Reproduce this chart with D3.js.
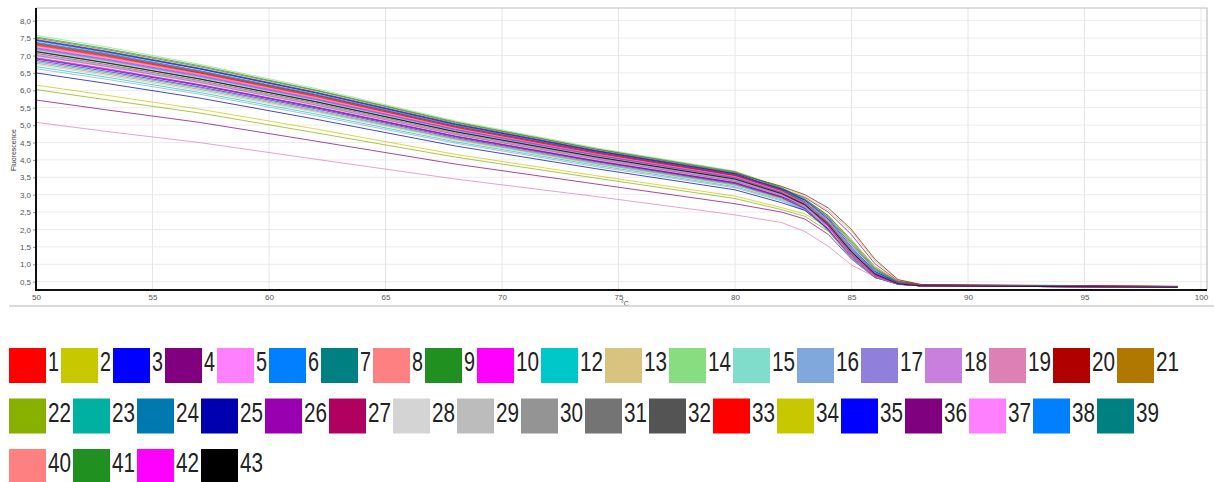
<!DOCTYPE html>
<html><head><meta charset="utf-8">
<script src="https://cdn.jsdelivr.net/npm/d3@7"></script>
<style>html,body{margin:0;padding:0;background:#fff;} svg{display:block;}</style>
</head><body><svg id="c" width="1214" height="482"></svg>
<script>
// Temperatures (°C) at which each curve is sampled
const temps = [50, 53, 57, 62, 68, 74, 80, 82, 83, 84, 85, 86, 87, 88, 99];

// Fluorescence values per sample (legend order)
const s1  = [7.30,6.98,6.50,5.82,4.93,4.19,3.54,3.10,2.80,2.26,1.46,0.78,0.46,0.39,0.35];
const s2  = [6.15,5.86,5.46,4.89,4.16,3.55,2.96,2.63,2.45,2.05,1.30,0.70,0.45,0.40,0.36];
const s3  = [6.90,6.59,6.14,5.50,4.67,3.97,3.34,2.94,2.68,2.20,1.45,0.78,0.46,0.39,0.35];
const s4  = [5.72,5.44,5.08,4.54,3.88,3.31,2.74,2.50,2.30,1.86,1.15,0.62,0.45,0.40,0.36];
const s5  = [7.24,6.92,6.45,5.78,4.89,4.16,3.51,3.08,2.78,2.24,1.44,0.77,0.45,0.39,0.35];
const s6  = [7.42,7.09,6.61,5.92,5.01,4.26,3.60,3.15,2.80,2.22,1.42,0.76,0.45,0.39,0.35];
const s7  = [7.38,7.06,6.57,5.89,4.99,4.24,3.58,3.14,2.78,2.18,1.38,0.74,0.45,0.39,0.35];
const s8  = [7.16,6.84,6.37,5.71,4.84,4.11,3.47,3.05,2.78,2.30,1.58,0.86,0.48,0.40,0.35];
const s9  = [7.50,7.17,6.68,5.99,5.07,4.31,3.64,3.19,2.86,2.36,1.62,0.87,0.48,0.40,0.35];
const s10 = [6.94,6.63,6.17,5.53,4.69,3.99,3.36,2.95,2.62,2.00,1.20,0.64,0.43,0.38,0.34];
const s12 = [6.68,6.38,5.94,5.32,4.52,3.85,3.23,2.85,2.56,1.96,1.16,0.62,0.42,0.38,0.34];
const s13 = [6.74,6.43,5.99,5.37,4.56,3.88,3.26,2.87,2.60,2.04,1.26,0.68,0.44,0.39,0.35];
const s14 = [7.58,7.25,6.75,6.05,5.12,4.35,3.68,3.22,2.95,2.55,1.95,1.10,0.55,0.41,0.36];
const s15 = [7.14,6.82,6.35,5.69,4.83,4.10,3.46,3.04,2.72,2.14,1.34,0.72,0.44,0.38,0.34];
const s16 = [6.62,6.32,5.89,5.27,4.48,3.81,3.20,2.82,2.55,2.00,1.22,0.66,0.43,0.38,0.34];
const s17 = [7.18,6.86,6.39,5.73,4.85,4.13,3.48,3.05,2.70,2.08,1.26,0.67,0.43,0.38,0.34];
const s18 = [7.02,6.71,6.25,5.60,4.75,4.04,3.40,2.99,2.68,2.10,1.30,0.70,0.44,0.38,0.35];
const s19 = [5.08,4.82,4.50,4.02,3.45,2.95,2.42,2.20,1.94,1.52,0.98,0.64,0.42,0.38,0.34];
const s20 = [7.46,7.13,6.64,5.95,5.04,4.28,3.62,3.24,3.00,2.62,2.00,1.15,0.56,0.42,0.37];
const s21 = [7.28,6.96,6.48,5.81,4.92,4.18,3.53,3.12,2.86,2.40,1.70,0.94,0.50,0.40,0.36];
const s22 = [6.02,5.73,5.35,4.78,4.08,3.48,2.89,2.57,2.38,1.95,1.20,0.62,0.44,0.39,0.35];
const s23 = [6.82,6.51,6.07,5.43,4.61,3.92,3.30,2.90,2.62,2.06,1.28,0.69,0.44,0.38,0.34];
const s24 = [7.36,7.04,6.55,5.87,4.97,4.23,3.57,3.13,2.84,2.34,1.56,0.84,0.47,0.40,0.35];
const s25 = [6.50,6.20,5.78,5.17,4.40,3.75,3.14,2.77,2.55,2.02,1.22,0.63,0.43,0.38,0.34];
const s26 = [6.92,6.61,6.16,5.52,4.68,3.98,3.35,2.95,2.66,2.10,1.32,0.71,0.44,0.38,0.35];
const s27 = [7.34,7.02,6.53,5.86,4.96,4.22,3.56,3.16,2.92,2.50,1.85,1.02,0.52,0.41,0.36];
const s28 = [7.08,6.76,6.30,5.65,4.79,4.07,3.43,3.01,2.68,2.06,1.24,0.66,0.43,0.38,0.34];
const s29 = [6.98,6.67,6.21,5.56,4.72,4.01,3.38,2.97,2.70,2.16,1.38,0.74,0.45,0.39,0.35];
const s30 = [6.78,6.47,6.03,5.40,4.59,3.90,3.28,2.89,2.58,1.98,1.18,0.63,0.43,0.38,0.34];
const s31 = [7.00,6.69,6.23,5.58,4.73,4.03,3.39,2.98,2.66,2.04,1.24,0.66,0.43,0.38,0.34];
const s32 = [7.06,6.74,6.28,5.63,4.77,4.06,3.42,3.00,2.70,2.12,1.32,0.71,0.44,0.38,0.34];
const s33 = [7.32,7.00,6.51,5.84,4.94,4.20,3.55,3.11,2.76,2.16,1.36,0.73,0.44,0.38,0.34];
const s34 = [7.10,6.78,6.32,5.66,4.80,4.08,3.44,3.02,2.74,2.22,1.46,0.79,0.46,0.39,0.35];
const s35 = [7.44,7.11,6.62,5.93,5.02,4.26,3.60,3.17,2.84,2.30,1.50,0.80,0.46,0.39,0.35];
const s36 = [6.86,6.55,6.10,5.47,4.64,3.95,3.32,2.92,2.60,2.00,1.22,0.65,0.43,0.38,0.34];
const s37 = [7.04,6.72,6.26,5.61,4.76,4.05,3.41,2.99,2.66,2.04,1.22,0.65,0.43,0.38,0.34];
const s38 = [7.20,6.88,6.41,5.74,4.87,4.14,3.49,3.06,2.76,2.20,1.40,0.75,0.45,0.39,0.35];
const s39 = [7.12,6.80,6.33,5.68,4.81,4.09,3.45,3.03,2.70,2.10,1.30,0.70,0.44,0.38,0.35];
const s40 = [7.26,6.94,6.46,5.79,4.91,4.17,3.52,3.09,2.74,2.12,1.30,0.70,0.44,0.38,0.34];
const s41 = [7.53,7.20,6.71,6.01,5.09,4.32,3.66,3.20,2.88,2.40,1.66,0.90,0.49,0.40,0.35];
const s42 = [7.22,6.90,6.43,5.76,4.88,4.15,3.50,3.07,2.72,2.10,1.28,0.68,0.43,0.38,0.34];
const s43 = [7.11,6.79,6.33,5.67,4.81,4.09,3.45,3.03,2.72,2.14,1.36,0.72,0.44,0.38,0.34];

const seriesNames = ["1","2","3","4","5","6","7","8","9","10","12","13","14","15","16","17","18","19","20","21",
  "22","23","24","25","26","27","28","29","30","31","32","33","34","35","36","37","38","39","40","41","42","43"];
const seriesValues = [s1,s2,s3,s4,s5,s6,s7,s8,s9,s10,s12,s13,s14,s15,s16,s17,s18,s19,s20,s21,
  s22,s23,s24,s25,s26,s27,s28,s29,s30,s31,s32,s33,s34,s35,s36,s37,s38,s39,s40,s41,s42,s43];
const palette = ["#ff0000","#c8c800","#0000ff","#800080","#ff80ff","#0080ff","#008080","#ff8080","#209020","#ff00ff",
  "#00c8c8","#d8c480","#88dd80","#80ddcc","#80a8dc","#9080dc","#c880dc","#dd80b4","#b00000","#b07800",
  "#88b000","#00b0a0","#0078b0","#0000b0","#9800b0","#b00060","#d4d4d4","#bcbcbc","#949494","#747474",
  "#545454","#ff0000","#c8c800","#0000ff","#800080","#ff80ff","#0080ff","#008080","#ff8080","#209020",
  "#ff00ff","#000000"];
const xTicks = [50,55,60,65,70,75,80,85,90,95,100];
const yTicks = [0.5,1,1.5,2,2.5,3,3.5,4,4.5,5,5.5,6,6.5,7,7.5,8];

const svg = d3.select("#c");
const P = {left:36, right:1207, top:8, bottom:290};
const x = d3.scaleLinear().domain([50,100]).range([36,1201]);
const y = d3.scaleLinear().domain([0,8]).range([299.1,20.7]);

// grid
const grid = svg.append("g");
grid.selectAll("line.h").data(yTicks).join("line")
  .attr("x1",P.left).attr("x2",P.right).attr("y1",d=>y(d)).attr("y2",d=>y(d))
  .attr("stroke","#ececec").attr("stroke-width",1);
grid.selectAll("line.v").data(xTicks.filter(d=>d>50)).join("line")
  .attr("x1",d=>x(d)).attr("x2",d=>x(d)).attr("y1",P.top).attr("y2",P.bottom)
  .attr("stroke","#e6e6e6").attr("stroke-width",1);

// frame top/right
svg.append("path").attr("d",`M${P.left},${P.top}H${P.right}V${P.bottom}`)
  .attr("fill","none").attr("stroke","#bdbdbd").attr("stroke-width",1.2);

// curves
svg.append("clipPath").attr("id","clip").append("rect")
  .attr("x",P.left).attr("y",P.top).attr("width",P.right-P.left).attr("height",P.bottom-P.top);
const line = d3.line().x((d,i)=>x(temps[i])).y(d=>y(d));
svg.append("g").attr("clip-path","url(#clip)")
  .selectAll("path").data(seriesValues).join("path")
  .attr("d",line).attr("fill","none")
  .attr("stroke",(d,i)=>palette[i]).attr("stroke-width",0.85).attr("stroke-opacity",0.85);

// axes
const fmt = d=>d3.format(".1f")(d).replace(".",",");
const ya = svg.append("g").attr("transform",`translate(${P.left},0)`)
  .call(d3.axisLeft(y).tickValues(yTicks).tickSize(3).tickPadding(2).tickFormat(fmt));
ya.select(".domain").remove();
ya.selectAll("line").attr("stroke","#999");
ya.selectAll("text").attr("font-family","Liberation Sans, Arial, sans-serif").attr("font-size",8).attr("fill","#555");

const xa = svg.append("g").attr("transform",`translate(0,${P.bottom})`)
  .call(d3.axisBottom(x).tickValues(xTicks).tickSize(0).tickPadding(4).tickFormat(d3.format("d")));
xa.select(".domain").remove();
xa.selectAll("text").attr("font-family","Liberation Sans, Arial, sans-serif").attr("font-size",8).attr("fill","#555");

// black axis lines
svg.append("line").attr("x1",P.left).attr("x2",P.left).attr("y1",P.top).attr("y2",P.bottom+1)
  .attr("stroke","#111").attr("stroke-width",2);
svg.append("line").attr("x1",P.left).attr("x2",P.right).attr("y1",P.bottom).attr("y2",P.bottom)
  .attr("stroke","#111").attr("stroke-width",2);

// axis titles
svg.append("text").attr("transform","translate(16,150) rotate(-90)").attr("text-anchor","middle")
  .attr("font-family","Liberation Sans, Arial, sans-serif").attr("font-size",7).attr("fill","#333").text("Fluorescence");
svg.append("text").attr("x",625).attr("y",306).attr("text-anchor","middle")
  .attr("font-family","Liberation Sans, Arial, sans-serif").attr("font-size",7).attr("fill","#444").text("°C");

// separator
svg.append("line").attr("x1",9).attr("x2",1214).attr("y1",306).attr("y2",306)
  .attr("stroke","#cfcfcf").attr("stroke-width",1.5);

// legend
const lg = svg.append("g");
let lx = 9, row = 0;
seriesNames.forEach((n,i)=>{
  const w = 40 + 12*n.length;
  if (lx + w > 1212) { row++; lx = 9; }
  const top = 348 + row*50.5;
  lg.append("rect").attr("x",lx).attr("y",top).attr("width",37).attr("height",35).attr("fill",palette[i]);
  lg.append("text").attr("x",lx+39).attr("y",top+23)
    .attr("font-family","Liberation Sans, Arial, sans-serif").attr("font-size",27).attr("fill","#222")
    .attr("textLength",12*n.length-1).attr("lengthAdjust","spacingAndGlyphs").text(n);
  lx += w;
});
</script></body></html>
